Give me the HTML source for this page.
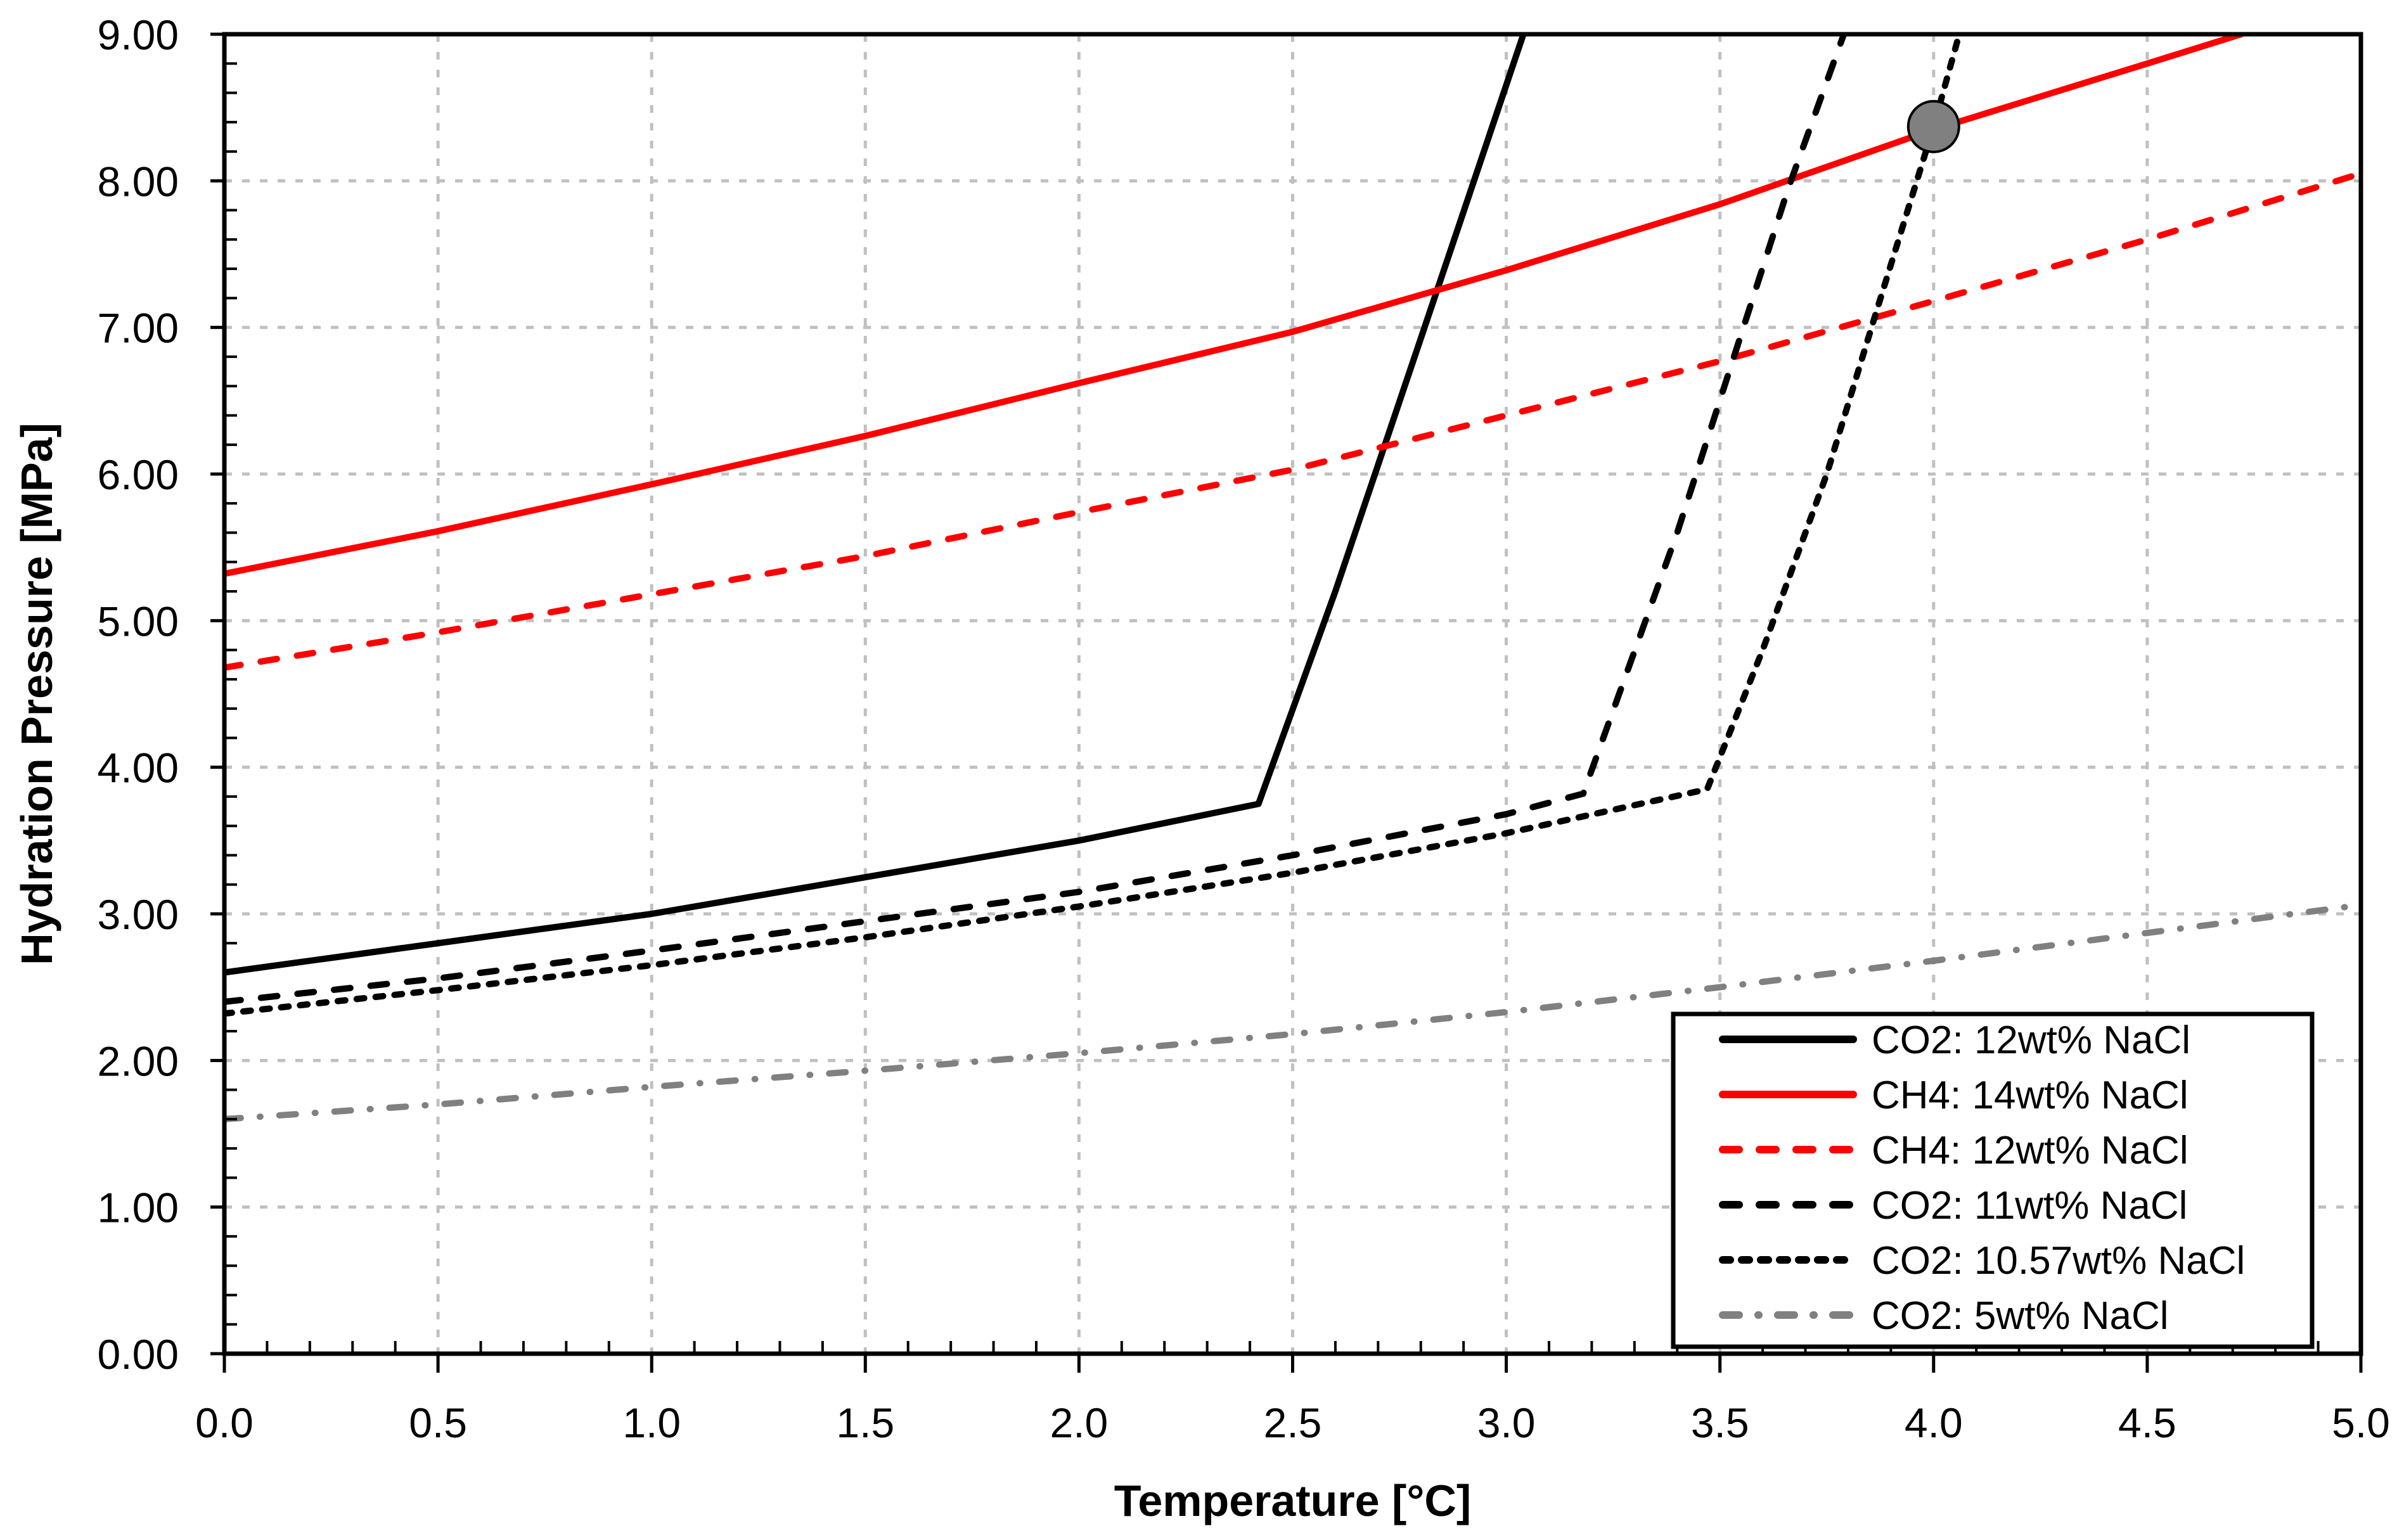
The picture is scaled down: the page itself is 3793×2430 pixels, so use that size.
<!DOCTYPE html>
<html><head><meta charset="utf-8"><style>
html,body{margin:0;padding:0;background:#fff;}
svg{display:block;font-family:"Liberation Sans",sans-serif;}
</style></head><body>
<svg id="chart" width="3793" height="2430" viewBox="0 0 3793 2430"></svg>
<script>
const xTicks=[0,0.5,1,1.5,2,2.5,3,3.5,4,4.5,5];
const xTickLabels=["0.0","0.5","1.0","1.5","2.0","2.5","3.0","3.5","4.0","4.5","5.0"];
const yTicks=[0,1,2,3,4,5,6,7,8,9];
const yTickLabels=["0.00","1.00","2.00","3.00","4.00","5.00","6.00","7.00","8.00","9.00"];
const co2_12_x=[0,0.5,1,1.5,2,2.42,2.6,2.84,3.04];
const co2_12_y=[2.6,2.8,3.0,3.25,3.5,3.75,5.2,7.27,9.0];
const ch4_14_x=[0,0.5,1,1.5,2,2.5,3,3.5,4,4.5,4.72];
const ch4_14_y=[5.32,5.61,5.93,6.26,6.62,6.97,7.39,7.84,8.35,8.8,9.0];
const ch4_12_x=[0,0.5,1,1.5,2,2.5,3,3.5,4,4.5,5];
const ch4_12_y=[4.68,4.92,5.18,5.44,5.74,6.03,6.4,6.77,7.18,7.6,8.05];
const co2_11_x=[0,0.5,1,1.5,2,2.5,3,3.18,3.4,3.66,3.79];
const co2_11_y=[2.4,2.56,2.75,2.95,3.15,3.4,3.68,3.82,5.6,7.95,9.0];
const co2_1057_x=[0,0.5,1,1.5,2,2.5,3,3.47,3.6,3.75,3.86,4.0,4.06];
const co2_1057_y=[2.32,2.48,2.65,2.84,3.05,3.28,3.55,3.85,4.8,6.0,7.05,8.37,9.0];
const co2_5_x=[0,0.5,1,1.5,2,2.5,3,3.5,4,4.5,5];
const co2_5_y=[1.6,1.7,1.82,1.93,2.05,2.18,2.33,2.5,2.68,2.87,3.06];
const markerX=[4.0];
const markerY=[8.37];
const legendLabels=["CO2: 12wt% NaCl","CH4: 14wt% NaCl","CH4: 12wt% NaCl","CO2: 11wt% NaCl","CO2: 10.57wt% NaCl","CO2: 5wt% NaCl"];

const L=354,R=3725,T=54,B=2136;
const sx=v=>L+(v-0)/(5-0)*(R-L);
const sy=v=>B-(v-0)/(9-0)*(B-T);
const svg=document.getElementById('chart');
const NS='http://www.w3.org/2000/svg';
function mk(tag,attrs,parent){const e=document.createElementNS(NS,tag);for(const k in attrs)e.setAttribute(k,attrs[k]);(parent||svg).appendChild(e);return e;}

// grid
const grid=mk('g',{});


xTicks.forEach(v=>{if(v>0&&v<5)mk('line',{x1:sx(v),x2:sx(v),y1:T,y2:B,stroke:'#c0c0c0','stroke-width':5,'stroke-dasharray':'12 16'},grid);});
yTicks.forEach(v=>{if(v>0&&v<9)mk('line',{x1:L,x2:R,y1:sy(v),y2:sy(v),stroke:'#c0c0c0','stroke-width':5,'stroke-dasharray':'12 16'},grid);});

// series
const series=[
 {x:co2_12_x,y:co2_12_y,c:'#000',d:'',name:'series-co2-12wt'},
 {x:ch4_14_x,y:ch4_14_y,c:'#ff0000',d:'',name:'series-ch4-14wt'},
 {x:ch4_12_x,y:ch4_12_y,c:'#ff0000',d:'26 32',name:'series-ch4-12wt'},
 {x:co2_11_x,y:co2_11_y,c:'#000',d:'26 32',name:'series-co2-11wt'},
 {x:co2_1057_x,y:co2_1057_y,c:'#000',d:'12 18',name:'series-co2-10-57wt'},
 {x:co2_5_x,y:co2_5_y,c:'#808080',d:'26 30 1 30',name:'series-co2-5wt'}
];
const clip=mk('clipPath',{id:'pc'});mk('rect',{x:L,y:T,width:R-L,height:B-T},clip);
series.forEach(s=>{
 const p=s.x.map((v,i)=>(i?'L':'M')+sx(v).toFixed(1)+','+sy(s.y[i]).toFixed(1)).join('');
 const el=mk('path',{d:p,fill:'none',stroke:s.c,'stroke-width':10,'stroke-linecap':'round','stroke-linejoin':'round','clip-path':'url(#pc)'});
 if(s.d)el.setAttribute('stroke-dasharray',s.d);
 
 
});
markerX.forEach((v,i)=>{
 const c=mk('circle',{cx:sx(v),cy:sy(markerY[i]),r:40,fill:'#808080',stroke:'#000','stroke-width':4});
 
 
});

// axes frame
const ax=mk('g',{});


mk('rect',{x:L,y:T,width:R-L,height:B-T,fill:'none',stroke:'#000','stroke-width':7},ax);
for(let i=0;i<=50;i++){const v=i*0.1;const x=sx(v);
 if(i%5===0)mk('line',{x1:x,x2:x,y1:B,y2:B+30,stroke:'#000','stroke-width':5},ax);
 else mk('line',{x1:x,x2:x,y1:B,y2:B-20,stroke:'#000','stroke-width':4},ax);}
for(let i=0;i<=45;i++){const v=i*0.2;const y=sy(v);
 if(i%5===0)mk('line',{x1:L-22,x2:L,y1:y,y2:y,stroke:'#000','stroke-width':5},ax);
 else mk('line',{x1:L,x2:L+20,y1:y,y2:y,stroke:'#000','stroke-width':4},ax);}
xTicks.forEach((v,i)=>{const t=mk('text',{x:sx(v),y:2268,'font-size':66,'text-anchor':'middle',fill:'#000'},ax);t.textContent=xTickLabels[i];
 
 });
yTicks.forEach((v,i)=>{const t=mk('text',{x:282,y:sy(v)+24,'font-size':66,'text-anchor':'end',fill:'#000'},ax);t.textContent=yTickLabels[i];
 
 });
const xt=mk('text',{x:(L+R)/2,y:2392,'font-size':70,'font-weight':'bold','text-anchor':'middle'});xt.textContent='Temperature [°C]';


const yt=mk('text',{x:0,y:0,'font-size':70,'font-weight':'bold','text-anchor':'middle',transform:'translate(82,1095) rotate(-90)'});yt.textContent='Hydration Pressure [MPa]';



// legend
const lg=mk('g',{});


mk('rect',{x:2640,y:1600,width:1008,height:525,fill:'#fff',stroke:'#000','stroke-width':7},lg);
series.forEach((s,i)=>{const y=1640+i*87;
 const ln=mk('line',{x1:2718,x2:2924,y1:y,y2:y,stroke:s.c,'stroke-width':12,'stroke-linecap':'round'},lg);
 if(s.d)ln.setAttribute('stroke-dasharray',s.d);
 
 
 const t=mk('text',{x:2953,y:y+22,'font-size':62,fill:'#000'},lg);t.textContent=legendLabels[i];
 
 
});
</script>
</body></html>
